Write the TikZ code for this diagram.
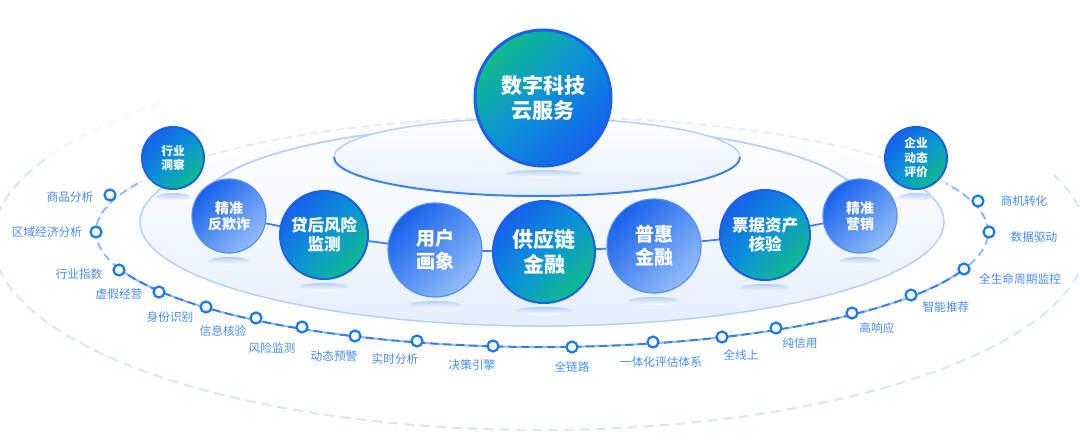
\documentclass[tikz,border=0pt]{standalone}
\usepackage{fontspec}
\newfontfamily\cjk{Noto Sans CJK SC}
\usetikzlibrary{positioning}
\definecolor{deepblue}{RGB}{22,98,236}
\definecolor{paleblue}{RGB}{146,188,248}
\definecolor{midteal}{RGB}{12,146,216}
\definecolor{tealgreen}{RGB}{16,188,140}
\definecolor{edgeblue}{RGB}{26,96,232}
\definecolor{ringblue}{RGB}{84,144,240}
\definecolor{dotblue}{RGB}{24,122,242}
\definecolor{labblue}{RGB}{70,140,242}
\definecolor{dashblue}{RGB}{50,124,238}
\definecolor{dashmid}{RGB}{146,186,244}
\definecolor{dashpale}{RGB}{216,230,251}
\definecolor{linkblue}{RGB}{60,130,238}
\definecolor{platblue}{RGB}{228,239,253}
\definecolor{rimblue}{RGB}{182,208,246}

\begin{document}
\begin{tikzpicture}[x=1pt,y=-1pt,
  ball/.style={circle,inner sep=0pt,text=white,align=center},
  blueball/.style={ball,draw=ringblue,line width=1.2pt,top color=deepblue,bottom color=paleblue,shading angle=45},
  greenball/.style={ball,draw=edgeblue,line width=2pt,top color=deepblue,bottom color=tealgreen,middle color=midteal,shading angle=45},
  topball/.style={ball,draw=edgeblue,line width=3pt,top color=tealgreen,bottom color=deepblue,middle color=midteal,shading angle=45},
  ring/.style={circle,draw=dotblue,fill=white,line width=2.2pt,minimum size=11pt,inner sep=0pt},
  lab/.style={text=labblue,font=\cjk\fontsize{11.7}{13}\selectfont,inner sep=0pt},
  glow/.style={top color=rimblue,bottom color=white},
  link/.style={draw=linkblue,line width=1.8pt},
  dashes/.style={line width=2pt,dash pattern=on 8pt off 5pt}]
\useasboundingbox (0,0) rectangle (1080,440);

% outer ring
\draw[dashes,dashpale!30,dash pattern=on 10pt off 6pt] ([shift={(200:547 and 190)}]540,240)
  arc [start angle=200,end angle=226,x radius=547,y radius=190];
\draw[dashes,dashpale,dash pattern=on 10pt off 6pt] ([shift={(205:547 and 190)}]540,240)
  arc [start angle=205,end angle=-20,x radius=547,y radius=190];

% platform
\path[top color=white,bottom color=platblue,middle color=white!60!platblue] (542,222) ellipse [x radius=402,y radius=104];
\draw[rimblue,line width=1.5pt] ([shift={(205:402 and 104)}]542,222)
  arc [start angle=205,end angle=-25,x radius=402,y radius=104];
\draw[rimblue,line width=1.8pt] ([shift={(180:330 and 80)}]532,204)
  arc [start angle=180,end angle=360,x radius=330,y radius=80];

% dotted track
\draw[dashes,dashpale!70] ([shift={(180:446 and 115)}]542,232)
  arc [start angle=180,end angle=360,x radius=446,y radius=115];
\draw[dashes,dashmid] ([shift={(205:446 and 115)}]542,232)
  arc [start angle=205,end angle=-25,x radius=446,y radius=115];
\draw[dashes,dashblue] ([shift={(162:446 and 115)}]542,232)
  arc [start angle=162,end angle=18,x radius=446,y radius=115];

% top plate
\path[top color=white,bottom color=platblue] (537,157) ellipse [x radius=203,y radius=39];
\draw[rimblue,line width=1.5pt] ([shift={(180:203 and 39)}]537,157)
  arc [start angle=180,end angle=360,x radius=203,y radius=39];
\draw[linkblue,line width=2pt] ([shift={(0:203 and 39)}]537,157)
  arc [start angle=0,end angle=180,x radius=203,y radius=39];

\node[topball,minimum size=136pt,font=\cjk\bfseries\fontsize{21}{25}\selectfont] (yun) at (543,98) {数字科技\\云服务};

\node[blueball,minimum size=74pt,font=\cjk\bfseries\fontsize{14}{16.5}\selectfont] (fan) at (229,216) {精准\\反欺诈};
\node[greenball,minimum size=88pt,font=\cjk\bfseries\fontsize{16.5}{19}\selectfont] (dai) at (324,235) {贷后风险\\监测};
\node[blueball,minimum size=94pt,font=\cjk\bfseries\fontsize{19}{23}\selectfont] (yong) at (435,250) {用户\\画象};
\node[greenball,minimum size=102pt,font=\cjk\bfseries\fontsize{21}{25}\selectfont] (gong) at (544,252) {供应链\\金融};
\node[blueball,minimum size=94pt,font=\cjk\bfseries\fontsize{19}{23}\selectfont] (pu) at (654,246) {普惠\\金融};
\node[greenball,minimum size=90pt,font=\cjk\bfseries\fontsize{16.5}{19}\selectfont] (piao) at (765,235) {票据资产\\核验};
\node[blueball,minimum size=74pt,font=\cjk\bfseries\fontsize{14}{16.5}\selectfont] (ying) at (860,216) {精准\\营销};
\node[greenball,minimum size=62pt,font=\cjk\bfseries\fontsize{11.7}{14}\selectfont] (hang) at (173,158) {行业\\洞察};
\node[greenball,minimum size=62pt,font=\cjk\bfseries\fontsize{11.7}{14.5}\selectfont] (qi) at (916,158) {企业\\动态\\评价};

\path[link]
  (fan) edge (dai)
  (dai) edge (yong)
  (yong) edge (gong)
  (gong) edge (pu)
  (pu) edge (piao)
  (piao) edge (ying);

\foreach \n/\r in {yun/68,fan/37,dai/44,yong/47,gong/51,pu/47,piao/45,ying/37,hang/31,qi/31}
  \path[glow] ([yshift={-(\r+8)*1pt}]\n.center) ellipse [x radius=0.55*\r,y radius=4];

% track stops
\foreach \n/\x/\y/\dx/\dy/\t in {
  1/110/195/-40/2/商品分析,
  2/96/232/-49/0/区域经济分析,
  3/119/270/-40/4/行业指数,
  4/159/292/-40/2/虚假经营,
  5/206/307/-36/10/身份识别,
  6/256/318/-33/13/信息核验,
  7/302/327/-30/21/风险监测,
  8/355/336/-21/20/动态预警,
  9/417/341/-22/18/实时分析,
  10/493/346/-21/19/决策引擎,
  11/572/347/0/20/全链路,
  12/653/342/8/20/一体化评估体系,
  13/722/337/19/18/全线上,
  14/776/328/24/15/纯信用,
  15/852/313/25/15/高响应,
  16/911/295/35/12/智能推荐,
  17/964/269/56/10/全生命周期监控,
  18/989/232/45/5/数据驱动,
  19/978/201/46/0/商机转化}
{
  \node[ring] (s\n) at (\x,\y) {};
  \node[lab] (t\n) at ([shift={(\dx,\dy)}]s\n) {\t};
}
\end{tikzpicture}
\end{document}
